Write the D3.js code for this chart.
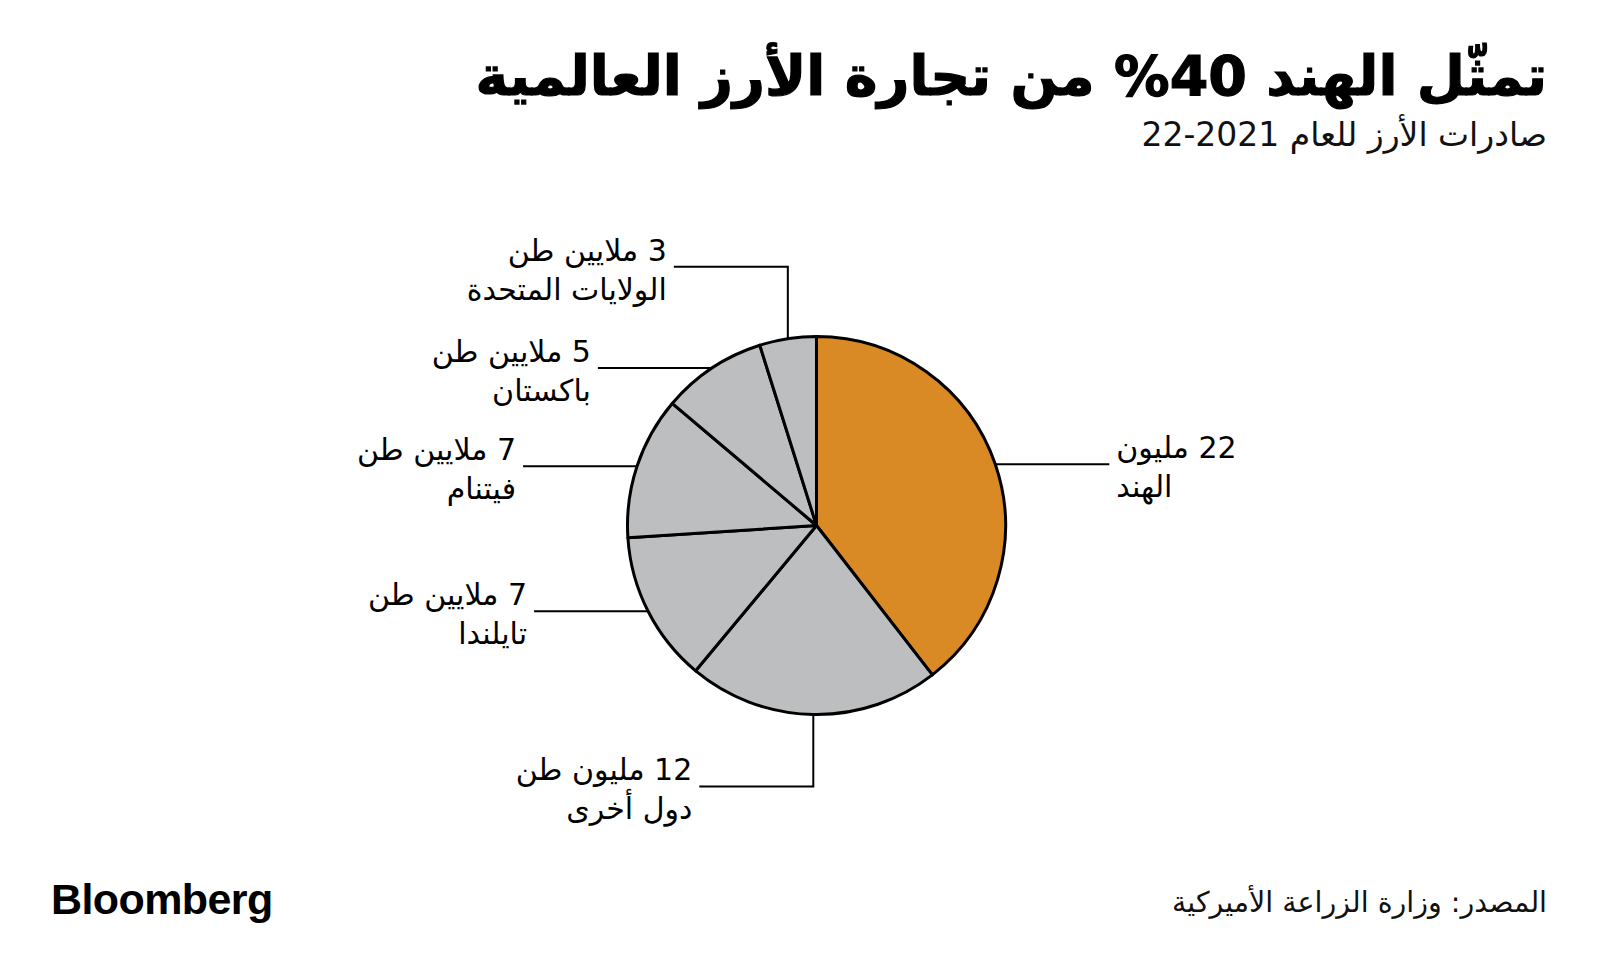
<!DOCTYPE html>
<html lang="ar">
<head>
<meta charset="utf-8">
<script src="https://cdn.jsdelivr.net/npm/d3@7"></script>
<style>
  html, body { margin: 0; padding: 0; background: #fff; }
  svg { display: block; }
  .ar { font-family: "DejaVu Sans", "Noto Sans", sans-serif; direction: rtl; }
</style>
</head>
<body>
<svg id="chart" width="1600" height="979"></svg>
<script>
// ---- Data (million tonnes, 2021-22 rice exports) ----
const countries = ["الهند", "دول أخرى", "تايلندا", "فيتنام", "باكستان", "الولايات المتحدة"];
const values = [22.0, 12.0, 7.2, 6.8, 5.0, 2.7];
const valueLabels = ["22 مليون", "12 مليون طن", "7 ملايين طن", "7 ملايين طن", "5 ملايين طن", "3 ملايين طن"];
const highlight = ["الهند"];

const titleText = "تمثّل الهند 40% من تجارة الأرز العالمية";
const subtitleText = "صادرات الأرز للعام 2021-22";
const sourceText = "المصدر: وزارة الزراعة الأميركية";
const brandText = "Bloomberg";

// leader direction per slice (layout)
const leaderDir = ["right", "down", "left", "left", "left", "up"];

const svg = d3.select("#chart");
const cx = 816.5, cy = 525.5, R = 189;
const colorOn = "#D98A24", colorOff = "#BCBEC0";

const data = countries.map((c, i) => ({ name: c, value: values[i], label: valueLabels[i], dir: leaderDir[i] }));

const pie = d3.pie().sort(null).value(d => d.value).startAngle(0).endAngle(2 * Math.PI);
const arcs = pie(data);
const arc = d3.arc().innerRadius(0).outerRadius(R);

const g = svg.append("g").attr("transform", `translate(${cx},${cy})`);
g.selectAll("path.slice").data(arcs).join("path")
  .attr("class", "slice")
  .attr("d", arc)
  .attr("fill", d => highlight.includes(d.data.name) ? colorOn : colorOff)
  .attr("stroke", "#000")
  .attr("stroke-width", 3)
  .attr("stroke-linejoin", "round");

// leaders & labels
const elbow = 72, horiz = 114, gap = 7, fs = 30, lineGap = 39, baseOff = 6;
const lab = svg.append("g");
arcs.forEach(a => {
  const mid = (a.startAngle + a.endAngle) / 2;
  const px = cx + R * Math.sin(mid), py = cy - R * Math.cos(mid);
  let pts, tx, ty, anchor;
  if (a.data.dir === "up" || a.data.dir === "down") {
    const ey = a.data.dir === "up" ? py - elbow : py + elbow;
    pts = [[px, py], [px, ey], [px - horiz, ey]];
    tx = px - horiz - gap; ty = ey; anchor = "start";
  } else if (a.data.dir === "left") {
    pts = [[px, py], [px - horiz, py]];
    tx = px - horiz - gap; ty = py; anchor = "start";
  } else {
    pts = [[px, py], [px + horiz, py]];
    tx = px + horiz + gap; ty = py; anchor = "end";
  }
  lab.append("path")
    .attr("d", d3.line()(pts))
    .attr("fill", "none").attr("stroke", "#000").attr("stroke-width", 2);
  const t = lab.append("text").attr("class", "ar")
    .attr("x", tx).attr("y", ty - baseOff)
    .attr("text-anchor", anchor)
    .attr("font-size", fs).attr("fill", "#000");
  t.append("tspan").attr("x", tx).attr("dy", 0).text(a.data.label);
  t.append("tspan").attr("x", tx).attr("dy", lineGap).text(a.data.name);
});

// title & subtitle
svg.append("text").attr("class", "ar")
  .attr("x", 1547).attr("y", 95)
  .attr("text-anchor", "start")
  .attr("font-size", 55.5).attr("font-weight", "bold").attr("fill", "#000")
  .attr("stroke", "#000").attr("stroke-width", 1.2)
  .text(titleText);
svg.append("text").attr("class", "ar")
  .attr("x", 1547).attr("y", 146)
  .attr("text-anchor", "start")
  .attr("font-size", 33).attr("fill", "#111")
  .text(subtitleText);

// footer
svg.append("text").attr("class", "ar")
  .attr("x", 1547).attr("y", 912)
  .attr("text-anchor", "start")
  .attr("font-size", 28.5).attr("fill", "#111")
  .text(sourceText);
svg.append("text")
  .attr("x", 51).attr("y", 914)
  .attr("font-family", "Liberation Sans, Arial, sans-serif")
  .attr("font-weight", "bold").attr("font-size", 43)
  .attr("letter-spacing", -0.6).attr("fill", "#000")
  .text(brandText);
</script>
</body>
</html>
